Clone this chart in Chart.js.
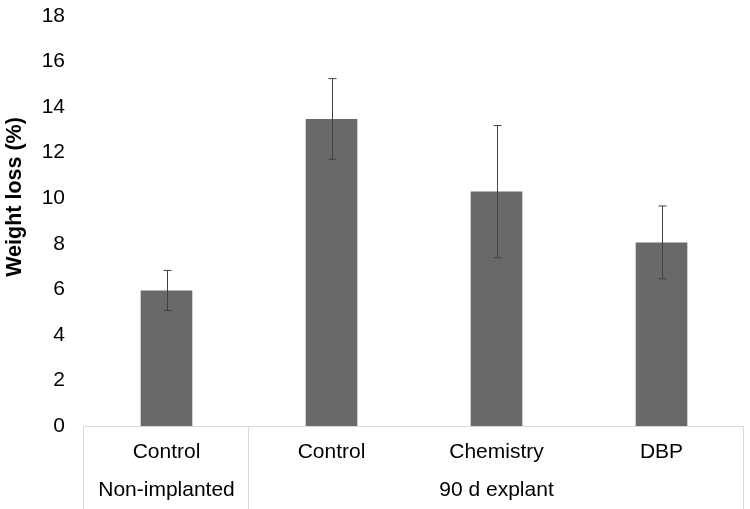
<!DOCTYPE html>
<html>
<head>
<meta charset="utf-8">
<script src="https://cdn.jsdelivr.net/npm/chart.js@4.4.1/dist/chart.umd.min.js"></script>
<style>
  html, body { margin: 0; padding: 0; background: #fff; }
  #wrap { width: 750px; height: 509px; }
</style>
</head>
<body>
<div id="wrap"><canvas id="grafico" width="750" height="509"></canvas></div>
<script>
// categorias e valores
var categorias = ['Control', 'Control', 'Chemistry', 'DBP'];
var grupos = ['Non-implanted', '90 d explant'];
var grupoInicio = [0, 1]; // índice da primeira categoria de cada grupo
var grupoFim = [0, 3];
var perdaPeso = [5.95, 13.48, 10.29, 8.06];
var desvio = [0.88, 1.77, 2.90, 1.60];
var yTicks = [0, 2, 4, 6, 8, 10, 12, 14, 16, 18];

var fonte = "'Liberation Sans', Arial, sans-serif";

// plugin para as barras de erro e a caixa do eixo x
var extras = {
    id: 'extras',
    afterDatasetsDraw: function(chart) {
        var ctx = chart.ctx;
        var x = chart.scales.x;
        var y = chart.scales.y;
        ctx.save();
        ctx.strokeStyle = '#404040';
        ctx.lineWidth = 1;
        for (var i = 0; i < perdaPeso.length; i++) {
            var px = Math.round(x.getPixelForValue(i)) + 0.5;
            var top = y.getPixelForValue(perdaPeso[i] + desvio[i]);
            var bot = y.getPixelForValue(perdaPeso[i] - desvio[i]);
            ctx.beginPath();
            ctx.moveTo(px, top); ctx.lineTo(px, bot);
            ctx.moveTo(px - 4, top); ctx.lineTo(px + 4, top);
            ctx.moveTo(px - 4, bot); ctx.lineTo(px + 4, bot);
            ctx.stroke();
        }
        // caixa das categorias
        var area = chart.chartArea;
        var base = Math.round(area.bottom) + 0.5;
        var fundo = chart.height;
        var passo = x.getPixelForValue(1) - x.getPixelForValue(0);
        ctx.strokeStyle = '#d9d9d9';
        ctx.beginPath();
        ctx.moveTo(area.left, base); ctx.lineTo(area.right, base);
        var bordas = [x.getPixelForValue(0) - passo / 2];
        for (var g = 0; g < grupos.length; g++) {
            bordas.push(x.getPixelForValue(grupoFim[g]) + passo / 2);
        }
        bordas.forEach(function(bx) {
            bx = Math.round(bx) - 0.5;
            ctx.moveTo(bx, base); ctx.lineTo(bx, fundo);
        });
        ctx.stroke();
        // rótulos dos grupos
        ctx.fillStyle = '#000';
        ctx.font = '21px ' + fonte;
        ctx.textAlign = 'center';
        ctx.textBaseline = 'middle';
        for (var k = 0; k < grupos.length; k++) {
            var cx = (x.getPixelForValue(grupoInicio[k]) + x.getPixelForValue(grupoFim[k])) / 2;
            ctx.fillText(grupos[k], cx, base + 64);
        }
        // título do eixo y
        ctx.translate(15, 197);
        ctx.rotate(-Math.PI / 2);
        ctx.font = 'bold 21.5px ' + fonte;
        ctx.fillText('Weight loss (%)', 0, 0);
        ctx.restore();
    }
};

var ctx = document.getElementById('grafico').getContext('2d');
var myChart = new Chart(ctx, {
    type: 'bar',
    data: {
        labels: categorias,
        datasets: [{
            data: perdaPeso,
            backgroundColor: '#696969',
            borderWidth: 0,
            categoryPercentage: 1,
            barPercentage: 0.313
        }]
    },
    options: {
        responsive: false,
        animation: false,
        layout: { padding: { top: 16, right: 6 } },
        plugins: { legend: { display: false }, tooltip: { enabled: false } },
        scales: {
            x: {
                grid: { display: false },
                border: { display: false },
                ticks: { color: '#000', font: { size: 21, family: fonte }, padding: 6 },
                afterFit: function(s) { s.height = 83; s.paddingLeft = 0; s.paddingRight = 0; }
            },
            y: {
                min: 0,
                max: 18,
                afterBuildTicks: function(s) { s.ticks = yTicks.map(function(v) { return { value: v }; }); },
                grid: { display: false, drawTicks: false },
                border: { display: false },
                ticks: { color: '#000', font: { size: 21, family: fonte }, padding: 19 },
                afterFit: function(s) { s.width = 84; s.paddingTop = 0; s.paddingBottom = 0; }
            }
        }
    },
    plugins: [extras]
});
</script>
</body>
</html>
